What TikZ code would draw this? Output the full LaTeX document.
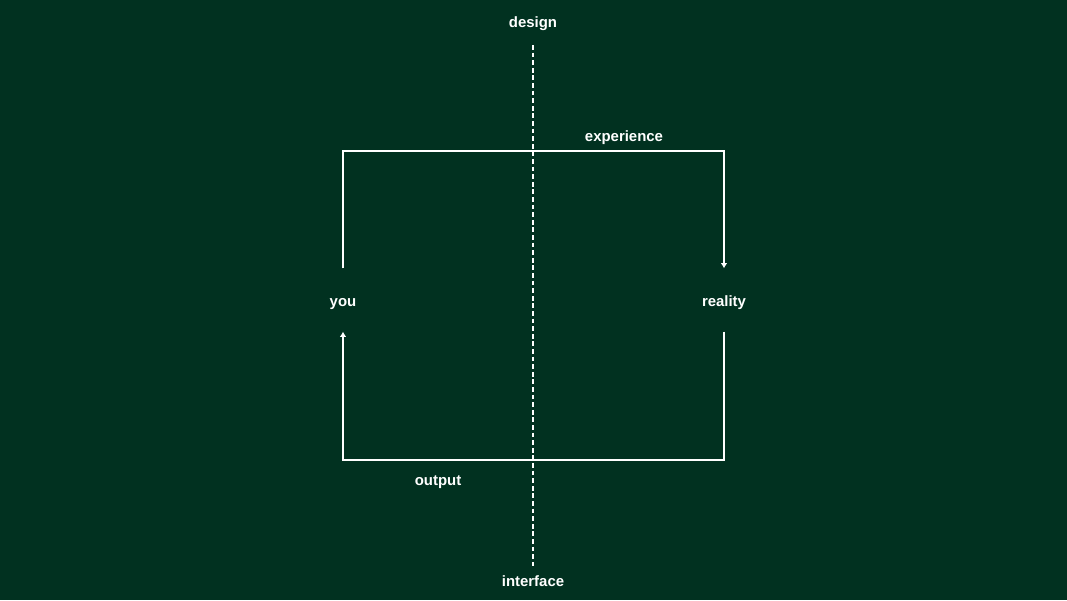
\documentclass[tikz,border=0pt]{standalone}
\usepackage{fontspec}
\setmainfont{Liberation Sans}
\usepackage{tikz}
\usetikzlibrary{arrows.meta,calc}
\definecolor{board}{RGB}{1,49,32}
\tikzset{
         lbl/.style={text=white,font=\fontsize{11.2}{13}\selectfont\bfseries,
                     inner sep=0,text height=8.5pt,text depth=2.5pt},
         side/.style={lbl,text height=10pt,text depth=1pt,minimum height=47pt},
         flow/.style={draw=white,line width=1.1pt,-{Latex[length=4pt,width=5pt]}},
         divider/.style={draw=white,line width=1.1pt,dash pattern=on 3.6pt off 2.1pt}
        }

\begin{document}
\begin{tikzpicture}[x=0.75pt,y=-0.75pt]
\fill[board](0,0)rectangle(1067,600);
\useasboundingbox(0,0)rectangle(1067,600);
%labels
\node[lbl](design)at(533,23){design};
\node[lbl](experience)at(624,137){experience};
\node[side](you)at(343,300){you};
\node[side](reality)at(724,300){reality};
\node[lbl](output)at(438,481){output};
\node[lbl](interface)at(533,582){interface};
%dashed line
\coordinate(dtop)at(533,45);
\coordinate(dbot)at(533,566);
\draw[divider](dtop)--(dbot);
%loop
\coordinate(top)at(533,151);
\coordinate(bot)at(533,460);
\draw[flow,line join=miter](you.north)--(you.north|-top)--(reality.north|-top)--(reality.north);
\draw[flow,line join=miter](reality.south)--(reality.south|-bot)--(you.south|-bot)--(you.south);
\end{tikzpicture}
\end{document}
